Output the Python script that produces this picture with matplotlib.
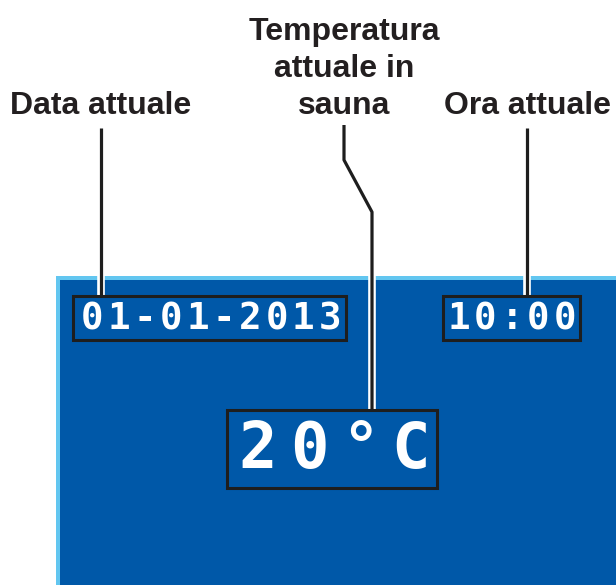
import matplotlib.pyplot as plt
from matplotlib.patches import Rectangle

# texts shown on the display diagram
labels = ['Data attuale', 'Temperatura\nattuale in\nsauna', 'Ora attuale']
display_values = ['01-01-2013', '20°C', '10:00']

W, H = 616, 585
fig = plt.figure(figsize=(W / 100, H / 100), dpi=100)
ax = fig.add_axes([0, 0, 1, 1])
ax.set_xlim(0, W)
ax.set_ylim(H, 0)
ax.axis('off')

blue = '#0058a8'
light = '#62c6f0'

# panel with light blue edge
ax.add_patch(Rectangle((56, 276), W - 56, H - 276, facecolor=light, edgecolor='none', zorder=1))
ax.add_patch(Rectangle((60, 280), W - 60, H - 280, facecolor=blue, edgecolor='none', zorder=2))

# display boxes: (x, y, w, h), first char centre, char pitch, font size
boxes = [(73, 296, 273, 44), (227, 410, 210, 78), (443, 296, 137, 44)]
starts = [92, 258, 459]
pitch = [26.4, 51, 26.4]
sizes = [27, 46, 27]
for (x, y, w, h), txt, x0, p, fs in zip(boxes, display_values, starts, pitch, sizes):
    ax.add_patch(Rectangle((x, y), w, h, facecolor=blue, edgecolor='#1e1e1e', lw=2.2, zorder=4))
    for i, ch in enumerate(txt):
        ax.text(x0 + i * p, y + h / 2 + 1, ch, color='white', fontsize=fs, family='DejaVu Sans Mono',
                fontweight='bold', ha='center', va='center', zorder=5)

# leader lines (black with white halo)
leaders = [([101, 101], [128, 296]),
           ([344, 344, 372, 372], [125, 160, 212, 410]),
           ([527, 527], [128, 296])]
for xs, ys in leaders:
    ax.plot(xs, ys, color='white', lw=5.5, solid_capstyle='butt', zorder=3)
    ax.plot(xs, ys, color='#1e1e1e', lw=2.3, solid_capstyle='butt', zorder=3.5)

# labels
label_pos = [(101, 106), (344, 69), (527, 106)]
for (x, y), txt in zip(label_pos, labels):
    ax.text(x, y, txt, fontsize=23, fontweight='bold', family='Liberation Sans', color='#231f20',
            ha='center', va='center', linespacing=1.32)

fig.savefig('out.png', dpi=100)
